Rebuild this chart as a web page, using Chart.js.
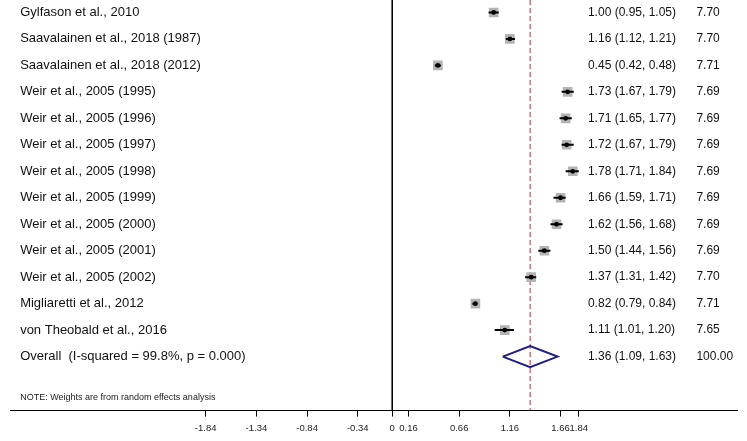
<!DOCTYPE html>
<html>
<head>
<meta charset="utf-8">
<script src="https://cdn.jsdelivr.net/npm/chart.js@4.4.0/dist/chart.umd.min.js"></script>
<style>
  html, body { margin: 0; padding: 0; background: #fff; }
  #wrap { width: 747px; height: 441px; position: relative; }
</style>
</head>
<body>
<div id="wrap"><canvas id="forest"></canvas></div>
<script>
// --- Data ---
const STUDIES = [
  'Gylfason et al., 2010',
  'Saavalainen et al., 2018 (1987)',
  'Saavalainen et al., 2018 (2012)',
  'Weir et al., 2005 (1995)',
  'Weir et al., 2005 (1996)',
  'Weir et al., 2005 (1997)',
  'Weir et al., 2005 (1998)',
  'Weir et al., 2005 (1999)',
  'Weir et al., 2005 (2000)',
  'Weir et al., 2005 (2001)',
  'Weir et al., 2005 (2002)',
  'Migliaretti et al., 2012',
  'von Theobald et al., 2016'
];
const ES    = [1.00, 1.16, 0.45, 1.73, 1.71, 1.72, 1.78, 1.66, 1.62, 1.50, 1.37, 0.82, 1.11];
const LOWER = [0.95, 1.12, 0.42, 1.67, 1.65, 1.67, 1.71, 1.59, 1.56, 1.44, 1.31, 0.79, 1.01];
const UPPER = [1.05, 1.21, 0.48, 1.79, 1.77, 1.79, 1.84, 1.71, 1.68, 1.56, 1.42, 0.84, 1.20];
const WEIGHTS = ['7.70', '7.70', '7.71', '7.69', '7.69', '7.69', '7.69', '7.69', '7.69', '7.69', '7.70', '7.71', '7.65'];

const OVERALL_LABEL = 'Overall  (I-squared = 99.8%, p = 0.000)';
const OVERALL = { es: 1.36, lo: 1.09, hi: 1.63, weight: '100.00' };
const NOTE = 'NOTE: Weights are from random effects analysis';

const X_TICKS = [-1.84, -1.34, -0.84, -0.34, 0, 0.16, 0.66, 1.16, 1.66, 1.84];

// --- Layout (data units) ---
const X_MIN = -3.77, X_MAX = 3.40;
const Y_MIN = -0.47, Y_MAX = 15.04;
const COL_LABEL = -3.67, COL_ES = 1.93, COL_W = 3.0;
const NOTE_ROW = 14.54;
const OVERALL_ROW = STUDIES.length;

function fmt(n) { return n.toFixed(2); }

// --- Datasets ---
const ciPoints = [];
STUDIES.forEach((s, i) => {
  ciPoints.push({x: LOWER[i], y: i}, {x: UPPER[i], y: i}, {x: NaN, y: NaN});
});
const esPoints = ES.map((v, i) => ({x: v, y: i}));
const diamond = [
  {x: OVERALL.lo, y: OVERALL_ROW},
  {x: OVERALL.es, y: OVERALL_ROW - 0.4},
  {x: OVERALL.hi, y: OVERALL_ROW},
  {x: OVERALL.es, y: OVERALL_ROW + 0.4},
  {x: OVERALL.lo, y: OVERALL_ROW}
];

// --- Text columns plugin ---
const textColumns = {
  id: 'textColumns',
  afterDatasetsDraw(chart) {
    const {ctx, scales: {x, y}} = chart;
    ctx.save();
    ctx.fillStyle = '#111';
    ctx.textBaseline = 'middle';
    ctx.textAlign = 'left';
    const rows = STUDIES.map((s, i) => [s, `${fmt(ES[i])} (${fmt(LOWER[i])}, ${fmt(UPPER[i])})`, WEIGHTS[i]]);
    rows.push([OVERALL_LABEL, `${fmt(OVERALL.es)} (${fmt(OVERALL.lo)}, ${fmt(OVERALL.hi)})`, OVERALL.weight]);
    rows.forEach((r, i) => {
      const py = y.getPixelForValue(i);
      ctx.font = '13px "Liberation Sans", Arial, sans-serif';
      ctx.fillText(r[0], x.getPixelForValue(COL_LABEL), py);
      ctx.font = '12px "Liberation Sans", Arial, sans-serif';
      ctx.fillText(r[1], x.getPixelForValue(COL_ES), py);
      ctx.fillText(r[2], x.getPixelForValue(COL_W), py);
    });
    ctx.font = '9px "Liberation Sans", Arial, sans-serif';
    ctx.fillStyle = '#222';
    ctx.fillText(NOTE, x.getPixelForValue(COL_LABEL), y.getPixelForValue(NOTE_ROW));
    ctx.restore();
  }
};

// --- Chart ---
new Chart(document.getElementById('forest').getContext('2d'), {
  type: 'scatter',
  data: {
    datasets: [
      { // black point estimate
        data: esPoints,
        pointStyle: 'circle',
        pointRadius: 2.4,
        backgroundColor: '#000',
        borderWidth: 0,
        order: 1
      },
      { // confidence intervals
        data: ciPoints,
        showLine: true,
        spanGaps: false,
        pointRadius: 0,
        borderColor: '#000',
        borderWidth: 2,
        order: 2
      },
      { // weight boxes
        data: esPoints,
        pointStyle: 'rect',
        pointRadius: 6.8,
        backgroundColor: '#b3b3b3',
        borderWidth: 0,
        order: 3
      },
      { // overall diamond
        data: diamond,
        showLine: true,
        pointRadius: 0,
        borderColor: '#1c1f86',
        borderWidth: 2,
        fill: false,
        order: 4
      },
      { // overall effect line
        data: [{x: OVERALL.es, y: Y_MIN}, {x: OVERALL.es, y: Y_MAX}],
        showLine: true,
        pointRadius: 0,
        borderColor: '#c0505a',
        borderWidth: 1.2,
        borderDash: [5, 3],
        order: 5
      },
      { // null line
        data: [{x: 0, y: Y_MIN}, {x: 0, y: Y_MAX}],
        showLine: true,
        pointRadius: 0,
        borderColor: '#000',
        borderWidth: 1,
        order: 6
      }
    ]
  },
  options: {
    responsive: true,
    maintainAspectRatio: false,
    animation: false,
    layout: { autoPadding: false, padding: { left: 10, right: 10, top: 0, bottom: 1 } },
    plugins: { legend: { display: false }, tooltip: { enabled: false } },
    scales: {
      x: {
        type: 'linear',
        min: X_MIN,
        max: X_MAX,
        afterBuildTicks: (scale) => { scale.ticks = X_TICKS.map(v => ({value: v})); },
        ticks: {
          autoSkip: false,
          maxRotation: 0,
          padding: 6,
          color: '#222',
          font: { family: '"Liberation Sans", Arial, sans-serif', size: 9.5 },
          callback: (v) => String(v)
        },
        grid: { drawOnChartArea: false, drawTicks: true, tickLength: 6, color: '#000' },
        border: { display: true, color: '#000', width: 1 }
      },
      y: {
        type: 'linear',
        display: false,
        reverse: true,
        min: Y_MIN,
        max: Y_MAX
      }
    }
  },
  plugins: [textColumns]
});
</script>
</body>
</html>
